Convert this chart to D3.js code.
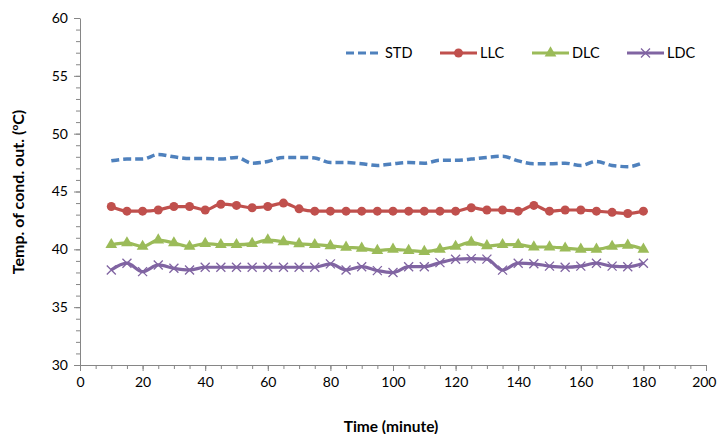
<!DOCTYPE html>
<html>
<head>
<meta charset="utf-8">
<script src="https://cdn.jsdelivr.net/npm/d3@7"></script>
<style>
  body { margin: 0; background: #fff; }
  svg { display: block; }
</style>
</head>
<body>
<div id="chart"></div>
<script>
// Data
var times = [10, 15, 20, 25, 30, 35, 40, 45, 50, 55, 60, 65, 70, 75, 80, 85, 90, 95,
             100, 105, 110, 115, 120, 125, 130, 135, 140, 145, 150, 155, 160, 165, 170, 175, 180];
var std = [47.65, 47.8, 47.8, 48.2, 48.0, 47.85, 47.85, 47.8, 47.95, 47.45, 47.6, 47.95, 47.95, 47.9,
           47.5, 47.5, 47.4, 47.25, 47.4, 47.5, 47.45, 47.7, 47.7, 47.8, 47.95, 48.05, 47.65, 47.4,
           47.4, 47.45, 47.25, 47.6, 47.25, 47.15, 47.5];
var llc = [43.7, 43.3, 43.3, 43.4, 43.7, 43.7, 43.4, 43.9, 43.8, 43.6, 43.7, 44.0, 43.5, 43.3,
           43.3, 43.3, 43.3, 43.3, 43.3, 43.3, 43.3, 43.3, 43.3, 43.6, 43.4, 43.4, 43.3, 43.8,
           43.3, 43.4, 43.4, 43.3, 43.2, 43.1, 43.3];
var dlc = [40.4, 40.55, 40.25, 40.8, 40.55, 40.25, 40.5, 40.4, 40.4, 40.5, 40.8, 40.65, 40.47, 40.4,
           40.3, 40.18, 40.09, 39.9, 40.0, 39.9, 39.8, 40.0, 40.25, 40.6, 40.3, 40.4, 40.4, 40.2,
           40.2, 40.1, 40.0, 40.0, 40.25, 40.35, 40.0];
var ldc = [38.22, 38.8, 38.07, 38.65, 38.36, 38.22, 38.45, 38.45, 38.45, 38.45, 38.45, 38.45, 38.45, 38.45,
           38.74, 38.22, 38.5, 38.16, 37.99, 38.5, 38.5, 38.85, 39.14, 39.2, 39.15, 38.2, 38.8, 38.75,
           38.55, 38.45, 38.55, 38.8, 38.55, 38.5, 38.8];
var seriesNames = ['STD', 'LLC', 'DLC', 'LDC'];
var xTicks = [0, 20, 40, 60, 80, 100, 120, 140, 160, 180, 200];
var yTicks = [30, 35, 40, 45, 50, 55, 60];

var series = [
  { name: 'STD', values: std, color: '#4f81bd', dash: '8,4', marker: null },
  { name: 'LLC', values: llc, color: '#c0504d', dash: null, marker: 'circle' },
  { name: 'DLC', values: dlc, color: '#9bbb59', dash: null, marker: 'triangle' },
  { name: 'LDC', values: ldc, color: '#8064a2', dash: null, marker: 'x' }
];

var W = 718, H = 434;
var margin = { left: 80, right: 12, top: 18, bottom: 69 };
var font = 'Lato, "Open Sans", sans-serif';
var axisColor = '#868686';

var svg = d3.select('#chart').append('svg')
  .attr('width', W)
  .attr('height', H)
  .attr('font-family', font);

var x = d3.scaleLinear().domain([0, 200]).range([margin.left, W - margin.right]);
var y = d3.scaleLinear().domain([30, 60]).range([H - margin.bottom, margin.top]);

// minor ticks
svg.append('g')
  .attr('transform', 'translate(0,' + y(30) + ')')
  .call(d3.axisBottom(x).tickValues(d3.range(0, 201, 5)).tickSize(4).tickFormat(''))
  .call(g => g.select('.domain').remove())
  .call(g => g.selectAll('line').attr('stroke', axisColor));
svg.append('g')
  .attr('transform', 'translate(' + x(0) + ',0)')
  .call(d3.axisLeft(y).tickValues(d3.range(30, 61, 1)).tickSize(4).tickFormat(''))
  .call(g => g.select('.domain').remove())
  .call(g => g.selectAll('line').attr('stroke', axisColor));

// major axes
var xAxis = svg.append('g')
  .attr('transform', 'translate(0,' + y(30) + ')')
  .call(d3.axisBottom(x).tickValues(xTicks).tickSize(6).tickSizeOuter(0).tickPadding(6));
var yAxis = svg.append('g')
  .attr('transform', 'translate(' + x(0) + ',0)')
  .call(d3.axisLeft(y).tickValues(yTicks).tickSize(6).tickSizeOuter(0).tickPadding(6));

[xAxis, yAxis].forEach(function (a) {
  a.select('.domain').attr('stroke', axisColor);
  a.selectAll('line').attr('stroke', axisColor);
  a.selectAll('text').attr('fill', '#000').style('font-size', '14px').style('font-family', font);
});
// keep the last x label inside the frame
xAxis.selectAll('.tick').filter(d => d === 200).select('text').attr('text-anchor', 'end').attr('dx', '10');

// axis titles
svg.append('text')
  .attr('x', (x(0) + x(200)) / 2 - 2)
  .attr('y', 432)
  .attr('text-anchor', 'middle')
  .style('font-size', '15.5px')
  .style('font-weight', 700)
  .text('Time (minute)');

var yt = svg.append('text')
  .attr('transform', 'translate(24,' + 192 + ') rotate(-90)')
  .attr('text-anchor', 'middle')
  .style('font-size', '16px')
  .style('font-weight', 700);
yt.append('tspan').text('Temp. of  cond. out. (');
yt.append('tspan').attr('baseline-shift', 'super').style('font-size', '10px').text('o');
yt.append('tspan').text('C)');

// markers
function drawMarker(sel, type, color) {
  if (type === 'circle') {
    sel.append('circle').attr('r', 4.5).attr('fill', color);
  } else if (type === 'triangle') {
    sel.append('path').attr('d', d3.symbol(d3.symbolTriangle, 60)()).attr('fill', color);
  } else if (type === 'x') {
    sel.append('path').attr('d', 'M-4.5,-4.5L4.5,4.5M-4.5,4.5L4.5,-4.5')
      .attr('stroke', color).attr('stroke-width', 1.3).attr('fill', 'none');
  }
}

var line = d3.line()
  .x((d, i) => x(times[i]))
  .y(d => y(d))
  .curve(d3.curveMonotoneX);

series.forEach(function (s) {
  svg.append('path')
    .datum(s.values)
    .attr('d', line)
    .attr('fill', 'none')
    .attr('stroke', s.color)
    .attr('stroke-width', s.marker ? 3.2 : 3.5)
    .attr('stroke-dasharray', s.dash);
  if (s.marker) {
    svg.append('g').selectAll('g')
      .data(s.values)
      .enter().append('g')
      .attr('transform', (d, i) => 'translate(' + x(times[i]) + ',' + y(d) + ')')
      .each(function () { drawMarker(d3.select(this), s.marker, s.color); });
  }
});

// legend
var legendX = [346, 440, 532, 627];
series.forEach(function (s, i) {
  var g = svg.append('g').attr('transform', 'translate(' + legendX[i] + ',53)');
  g.append('line')
    .attr('x1', 0).attr('x2', s.marker ? 37 : 32)
    .attr('stroke', s.color)
    .attr('stroke-width', 3)
    .attr('stroke-dasharray', s.dash);
  if (s.marker) {
    var m = g.append('g').attr('transform', 'translate(18.5,0)');
    drawMarker(m, s.marker, s.color);
  }
  g.append('text')
    .attr('x', s.marker ? 40 : 39)
    .attr('dy', '0.35em')
    .style('font-size', '14.5px')
    .text(seriesNames[i]);
});
</script>
</body>
</html>
